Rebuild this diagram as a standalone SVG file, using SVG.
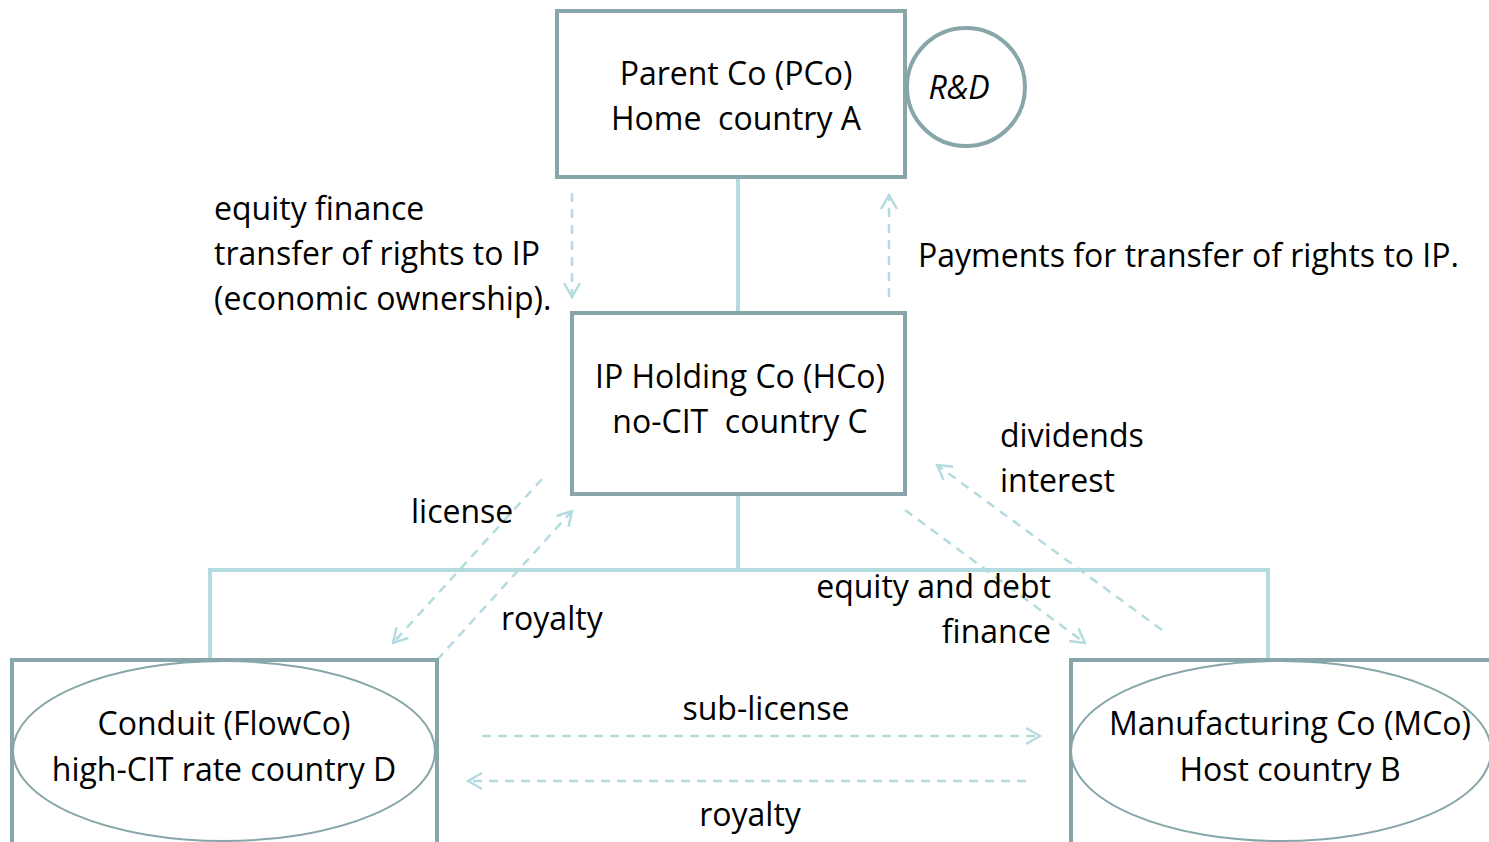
<svg xmlns="http://www.w3.org/2000/svg" width="1489" height="842" viewBox="0 0 1489 842">
<defs>
<marker id="arr" viewBox="0 0 20 20" refX="18" refY="10" markerWidth="20" markerHeight="20" markerUnits="userSpaceOnUse" orient="auto">
<path d="M4 2 L18 10 L4 18" fill="none" stroke="#b4dce0" stroke-width="2.5"/>
</marker>
<style>
.box{fill:#fff;stroke:#88a6a9;stroke-width:4}
.ell{fill:#fff;stroke:#88a6a9;stroke-width:2}
.tree{fill:none;stroke:#b4dce0;stroke-width:4}
.dash{fill:none;stroke:#b4dce0;stroke-width:2.5;stroke-dasharray:9 7;marker-end:url(#arr)}
text{font-family:"Open Sans","Liberation Sans",Arial,sans-serif;font-size:32px;fill:#000;white-space:pre}
.c{text-anchor:middle}
.r{text-anchor:end}
</style>
</defs>
<rect width="1489" height="842" fill="#fff"/>
<g id="connectors">
<path class="tree" d="M738 177 V313 M738 494 V570 M210 660 V570 H1268 V660"/>
<line class="dash" x1="572" y1="193" x2="572" y2="297"/>
<line class="dash" x1="889" y1="297" x2="889" y2="195"/>
<line class="dash" x1="542" y1="479" x2="393" y2="643"/>
<line class="dash" x1="437" y1="660" x2="572" y2="511"/>
<line class="dash" x1="905" y1="510" x2="1085" y2="643"/>
<line class="dash" x1="1162" y1="630" x2="937" y2="465"/>
<line class="dash" x1="482" y1="736" x2="1040" y2="736"/>
<line class="dash" x1="1026" y1="781" x2="468" y2="781"/>
</g>
<g id="pco">
<rect class="box" x="557" y="11" width="348" height="166"/>
<text class="c" x="736" y="85">Parent Co (PCo)</text>
<text class="c" x="736" y="130" xml:space="preserve">Home  country A</text>
</g>
<g id="rnd">
<circle cx="966" cy="87" r="59" fill="#fff" stroke="#88a6a9" stroke-width="4"/>
<text class="c" x="959" y="99" font-style="italic" font-size="33">R&amp;D</text>
</g>
<g id="hco">
<rect class="box" x="572" y="313" width="333" height="181"/>
<text class="c" x="740" y="388">IP Holding Co (HCo)</text>
<text class="c" x="740" y="433" xml:space="preserve">no-CIT  country C</text>
</g>
<g id="flowco">
<rect class="box" x="12" y="660" width="425" height="200"/>
<ellipse class="ell" cx="224" cy="751" rx="211" ry="90"/>
<text class="c" x="224" y="735">Conduit (FlowCo)</text>
<text class="c" x="224" y="781">high-CIT rate country D</text>
</g>
<g id="mco">
<rect class="box" x="1071" y="660" width="440" height="200"/>
<ellipse class="ell" cx="1281" cy="751" rx="210" ry="90"/>
<text class="c" x="1290" y="735">Manufacturing Co (MCo)</text>
<text class="c" x="1290" y="781">Host country B</text>
</g>
<g id="labels">
<text x="214" y="220">equity finance</text>
<text x="214" y="265">transfer of rights to IP</text>
<text x="214" y="310">(economic ownership).</text>
<text x="918" y="267">Payments for transfer of rights to IP.</text>
<text x="1000" y="447">dividends</text>
<text x="1000" y="492">interest</text>
<text x="411" y="523">license</text>
<text x="501" y="630">royalty</text>
<text class="r" x="1051" y="598">equity and debt</text>
<text class="r" x="1051" y="643">finance</text>
<text class="c" x="766" y="720">sub-license</text>
<text class="c" x="750" y="826">royalty</text>
</g>
</svg>
